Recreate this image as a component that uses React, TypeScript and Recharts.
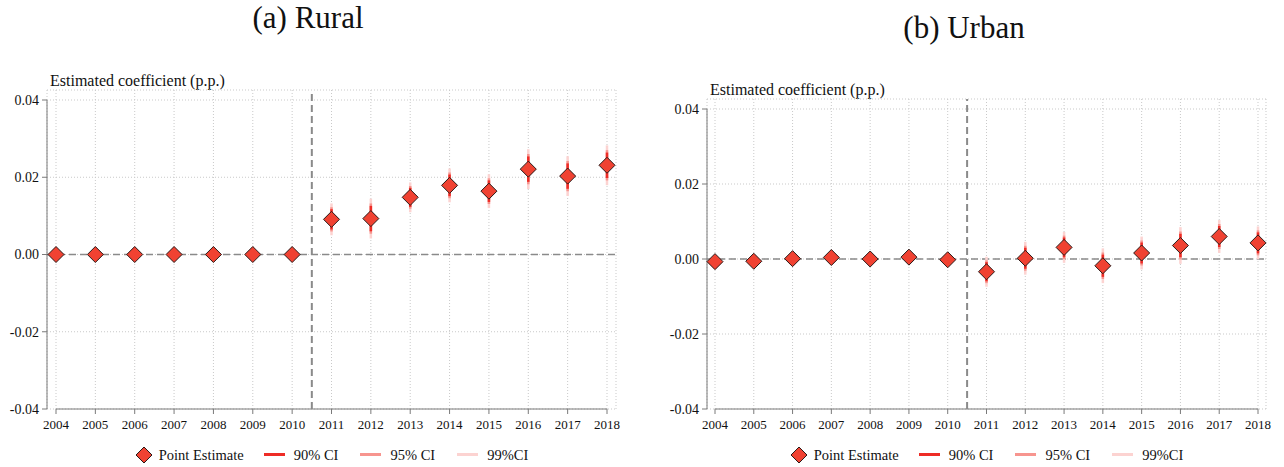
import { ScatterChart, Scatter, XAxis, YAxis, CartesianGrid, ReferenceLine, ErrorBar } from "recharts";

const years = [2004, 2005, 2006, 2007, 2008, 2009, 2010, 2011, 2012, 2013, 2014, 2015, 2016, 2017, 2018];

// event-study coefficients (p.p.) and their standard errors
const ruralEstimate = [0, 0, 0, 0, 0, 0, 0, 0.0091, 0.0093, 0.0148, 0.0179, 0.0164, 0.0221, 0.0203, 0.0231];
const ruralSe = [0, 0, 0, 0, 0, 0, 0, 0.0016, 0.002, 0.0015, 0.0017, 0.0017, 0.002, 0.002, 0.002];
const urbanEstimate = [-0.0007, -0.0006, 0.0001, 0.0004, 0, 0.0005, -0.0002, -0.0034, 0.0002, 0.0031, -0.0018, 0.0016, 0.0036, 0.006, 0.0043];
const urbanSe = [0, 0, 0, 0, 0, 0, 0, 0.00155, 0.0017, 0.0016, 0.0018, 0.0017, 0.0019, 0.0017, 0.0017];

const yTicks = [-0.04, -0.02, 0, 0.02, 0.04];
const treatmentBreak = 2010.5;

const Z90 = 1.645;
const Z95 = 1.96;
const Z99 = 2.576;

const FONT = "'Liberation Serif', 'Times New Roman', serif";
const POINT_FILL = "#f04232";
const AXIS = "#7a7a7a";
const CI90 = "#ee2c26";
const CI95 = "#f7958f";
const CI99 = "#fcd3d1";

function buildRows(est: number[], se: number[]) {
  return years.map((year, i) => ({
    year,
    est: est[i],
    ci90: Z90 * se[i],
    ci95: Z95 * se[i],
    ci99: Z99 * se[i],
  }));
}

const Diamond = (props: any) => {
  const { cx, cy } = props;
  const r = 8;
  return (
    <path
      d={`M${cx},${cy - r}L${cx + r},${cy}L${cx},${cy + r}L${cx - r},${cy}Z`}
      fill={POINT_FILL}
      stroke="#2a1a18"
      strokeWidth={1}
    />
  );
};

const Nothing = () => <g />;

function LegendRow({ center, top }: { center: number; top: number }) {
  const line = (color: string) => (
    <svg width={21} height={4} style={{ marginRight: 9 }}>
      <rect x={0} y={0} width={21} height={3} fill={color} />
    </svg>
  );
  return (
    <div
      style={{
        position: "absolute",
        left: center - 220,
        width: 440,
        top,
        display: "flex",
        justifyContent: "center",
        alignItems: "center",
        fontFamily: FONT,
        fontSize: 14.5,
        color: "#111",
        whiteSpace: "nowrap",
      }}
    >
      <svg width={18} height={18} style={{ marginRight: 6 }}>
        <path d="M9,1L17,9L9,17L1,9Z" fill={POINT_FILL} stroke="#2a1a18" strokeWidth={1} />
      </svg>
      <span style={{ marginRight: 20 }}>Point Estimate</span>
      {line(CI90)}
      <span style={{ marginRight: 22 }}>90% CI</span>
      {line(CI95)}
      <span style={{ marginRight: 22 }}>95% CI</span>
      {line(CI99)}
      <span>99%CI</span>
    </div>
  );
}

interface PanelProps {
  left: number;
  width: number;
  title: string;
  titleCenter: number;
  titleBaseline: number;
  axisTitleBaseline: number;
  marginTop: number;
  marginRight: number;
  padX: number;
  rows: ReturnType<typeof buildRows>;
}

function Panel(p: PanelProps) {
  const plotLeft = 47;
  const plotRight = p.width - p.marginRight;
  // year value that sits on the left edge of the plot (inside the x padding)
  const yearSpan = years[years.length - 1] - years[0];
  const pxPerYear = (plotRight - plotLeft - 2 * p.padX) / yearSpan;
  const edgeYear = years[0] - p.padX / pxPerYear;

  return (
    <div style={{ position: "absolute", left: p.left, top: 0, width: p.width, height: 467 }}>
      <div
        style={{
          position: "absolute",
          left: p.titleCenter - 150,
          width: 300,
          textAlign: "center",
          top: p.titleBaseline - 0.8375 * 31,
          fontFamily: FONT,
          fontSize: 31,
          lineHeight: "31px",
          color: "#111",
        }}
      >
        {p.title}
      </div>
      <div
        style={{
          position: "absolute",
          left: plotLeft + 3,
          top: p.axisTitleBaseline - 0.8375 * 16,
          fontFamily: FONT,
          fontSize: 16,
          lineHeight: "16px",
          color: "#111",
          whiteSpace: "nowrap",
        }}
      >
        Estimated coefficient (p.p.)
      </div>
      <ScatterChart
        width={p.width}
        height={467}
        margin={{ top: p.marginTop, right: p.marginRight, bottom: 28, left: 0 }}
      >
        <CartesianGrid stroke="#c9c9c9" strokeDasharray="1 2" />
        <XAxis
          type="number"
          dataKey="year"
          domain={[2004, 2018]}
          ticks={years}
          interval={0}
          padding={{ left: p.padX, right: p.padX }}
          axisLine={false}
          tickLine={{ stroke: AXIS }}
          tickSize={5}
          tickMargin={6}
          height={30}
          tick={{ fontFamily: FONT, fontSize: 13, fill: "#111" }}
        />
        <YAxis
          type="number"
          dataKey="est"
          domain={[-0.04, 0.04]}
          ticks={yTicks}
          padding={{ top: 10, bottom: 0 }}
          width={plotLeft}
          axisLine={false}
          tickLine={{ stroke: AXIS }}
          tickSize={5}
          tickMargin={3}
          tickFormatter={(v: number) => v.toFixed(2)}
          tick={{ fontFamily: FONT, fontSize: 14, fill: "#111" }}
        />
        {/* axis lines only span the tick range */}
        <ReferenceLine
          segment={[
            { x: edgeYear, y: -0.04 },
            { x: edgeYear, y: 0.04 },
          ]}
          ifOverflow="visible"
          stroke={AXIS}
          strokeWidth={1}
        />
        <ReferenceLine
          segment={[
            { x: 2004, y: -0.04 },
            { x: 2018, y: -0.04 },
          ]}
          stroke={AXIS}
          strokeWidth={1}
        />
        <ReferenceLine y={0} stroke="#8a8a8a" strokeWidth={1.6} strokeDasharray="7 4" />
        <ReferenceLine x={treatmentBreak} stroke="#8a8a8a" strokeWidth={2} strokeDasharray="7 4" />
        <Scatter data={p.rows} shape={Nothing} isAnimationActive={false}>
          <ErrorBar dataKey="ci99" direction="y" width={0} stroke={CI99} strokeWidth={2.5} isAnimationActive={false} />
          <ErrorBar dataKey="ci95" direction="y" width={0} stroke={CI95} strokeWidth={2.5} isAnimationActive={false} />
          <ErrorBar dataKey="ci90" direction="y" width={0} stroke={CI90} strokeWidth={2.5} isAnimationActive={false} />
        </Scatter>
        <Scatter data={p.rows} shape={Diamond} isAnimationActive={false} />
      </ScatterChart>
      <LegendRow center={(plotLeft + plotRight) / 2} top={446} />
    </div>
  );
}

export default function App() {
  const rural = buildRows(ruralEstimate, ruralSe);
  const urban = buildRows(urbanEstimate, urbanSe);
  return (
    <div style={{ position: "absolute", left: 0, top: 0, width: 1284, height: 467, background: "#fff", overflow: "hidden" }}>
      <Panel
        left={0}
        width={642}
        title="(a) Rural"
        titleCenter={308}
        titleBaseline={28}
        axisTitleBaseline={86}
        marginTop={90}
        marginRight={26}
        padX={9}
        rows={rural}
      />
      <Panel
        left={660}
        width={624}
        title="(b) Urban"
        titleCenter={304}
        titleBaseline={38}
        axisTitleBaseline={95}
        marginTop={99}
        marginRight={18}
        padX={8}
        rows={urban}
      />
    </div>
  );
}
